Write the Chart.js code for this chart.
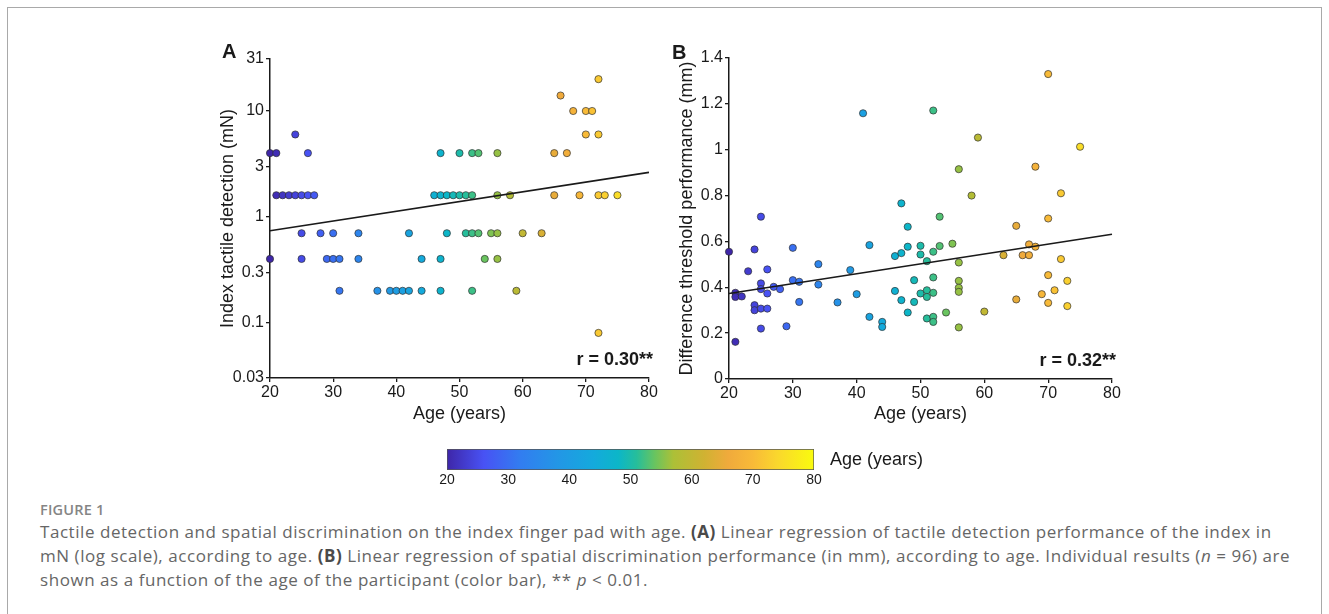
<!DOCTYPE html>
<html>
<head>
<meta charset="utf-8">
<script src="https://cdn.jsdelivr.net/npm/chart.js@4.4.1/dist/chart.umd.min.js"></script>
<style>
    html, body { margin: 0; padding: 0; background: #fff; overflow: hidden; }
    body { width: 1329px; height: 614px; position: relative; font-family: "Liberation Sans", Arial, sans-serif; color: #1a1a1a; }
    .frame { position: absolute; left: 7px; top: 7px; width: 1313px; height: 700px; border: 1.5px solid #a9a9a9; }
    .abs { position: absolute; white-space: nowrap; line-height: 1; }
    canvas { position: absolute; }
    .panel { font-weight: bold; font-size: 20px; }
    .corr { font-weight: bold; font-size: 18px; width: 200px; text-align: right; }
    .cblabel { font-size: 18px; }
    .fig { font-family: "Open Sans", sans-serif; font-weight: 600; font-size: 14.5px; color: #858585; letter-spacing: 0.2px; }
    .cap { font-family: "Open Sans", sans-serif; font-size: 17px; letter-spacing: 0.55px; line-height: 24.2px; color: #666; }
    .cap b { color: #4a4a4a; }
</style>
</head>
<body>
<div class="frame"></div>

<canvas id="panelA" width="480" height="390" style="left:190px; top:40px;"></canvas>
<canvas id="panelB" width="490" height="390" style="left:650px; top:40px;"></canvas>
<canvas id="colorbar" width="420" height="55" style="left:420px; top:440px;"></canvas>

<div class="abs panel" style="left:222px; top:41px;">A</div>
<div class="abs panel" style="left:672px; top:42px;">B</div>
<div class="abs corr" style="left:453px; top:350px;">r = 0.30**</div>
<div class="abs corr" style="left:916px; top:351px;">r = 0.32**</div>
<div class="abs cblabel" style="left:830px; top:450px;">Age (years)</div>

<div class="abs fig" style="left:40px; top:503px;">FIGURE 1</div>
<div class="abs cap" style="left:40px; top:520px;">Tactile detection and spatial discrimination on the index finger pad with age. <b>(A)</b> Linear regression of tactile detection performance of the index in<br>mN (log scale), according to age. <b>(B)</b> Linear regression of spatial discrimination performance (in mm), according to age. Individual results (<i>n</i> = 96) are<br>shown as a function of the age of the participant (color bar), ** <i>p</i> &lt; 0.01.</div>

<script>
// Panel A: tactile detection threshold (mN), log scale
const agesA = [
    20, 21, 26, 47, 50, 52, 53, 56, 65, 67,
    24, 70, 72,
    21, 22, 23, 24, 25, 26, 27, 46, 47, 48, 49, 50, 51, 52, 56, 58, 65, 69, 72, 73, 75,
    25, 28, 30, 34, 42, 48, 51, 52, 53, 55, 56, 60, 63,
    20, 25, 29, 30, 31, 34, 44, 47, 54, 56,
    31, 37, 39, 40, 41, 42, 44, 47, 52, 59,
    72, 72, 66, 68, 70, 71,
];
const valuesA = [
    4, 4, 4, 4, 4, 4, 4, 4, 4, 4,
    6, 6, 6,
    1.6, 1.6, 1.6, 1.6, 1.6, 1.6, 1.6, 1.6, 1.6, 1.6, 1.6, 1.6, 1.6, 1.6, 1.6, 1.6, 1.6, 1.6, 1.6, 1.6, 1.6,
    0.7, 0.7, 0.7, 0.7, 0.7, 0.7, 0.7, 0.7, 0.7, 0.7, 0.7, 0.7, 0.7,
    0.4, 0.4, 0.4, 0.4, 0.4, 0.4, 0.4, 0.4, 0.4, 0.4,
    0.2, 0.2, 0.2, 0.2, 0.2, 0.2, 0.2, 0.2, 0.2, 0.2,
    0.08, 20, 14, 10, 10, 10,
];

// Panel B: difference threshold (mm)
const agesB = [
    20, 21, 21, 22, 21, 23, 24, 24, 24, 25, 25, 25, 25, 26, 26, 26, 27, 28, 29, 30,
    30, 31, 31, 34, 34, 37, 39, 40, 42, 42, 44, 44, 46, 46, 47, 47, 25, 41, 47, 48,
    48, 50, 50, 51, 52, 53, 55, 56, 49, 52, 49, 48, 50, 51, 51, 52, 51, 52, 52, 54,
    56, 56, 56, 56, 60, 63, 65, 65, 66, 67, 67, 68, 69, 70, 70, 71, 72, 73, 73, 70,
    70, 52, 59, 75, 56, 68, 58, 72, 53,
];
const valuesB = [
    0.555, 0.376, 0.358, 0.36, 0.162, 0.47, 0.565, 0.322, 0.30, 0.417, 0.392, 0.307, 0.22, 0.478, 0.373, 0.307, 0.402, 0.392, 0.23, 0.572,
    0.431, 0.424, 0.336, 0.501, 0.412, 0.334, 0.475, 0.37, 0.584, 0.271, 0.249, 0.227, 0.536, 0.384, 0.344, 0.549, 0.708, 1.159, 0.766, 0.664,
    0.577, 0.581, 0.543, 0.514, 0.555, 0.58, 0.59, 0.508, 0.431, 0.443, 0.336, 0.29, 0.373, 0.387, 0.358, 0.376, 0.264, 0.271, 0.249, 0.29,
    0.428, 0.398, 0.38, 0.225, 0.294, 0.54, 0.668, 0.347, 0.54, 0.587, 0.54, 0.577, 0.37, 0.453, 0.332, 0.387, 0.523, 0.428, 0.318, 0.70,
    1.33, 1.171, 1.053, 1.013, 0.915, 0.926, 0.80, 0.81, 0.708,
];

// Regression lines (end points)
const fitAges = [20, 80];
const fitA = [0.74, 2.63];
const fitB = [0.373, 0.631];

// Tick labels
const ageTicks = [20, 30, 40, 50, 60, 70, 80];
const yTicksA = [0.03, 0.1, 0.3, 1, 3, 10, 31];
const yTicksB = [0, 0.2, 0.4, 0.6, 0.8, 1, 1.2, 1.4];

// parula-like colour map, age 20 -> 80
const colorStops = [
    [20, [62, 38, 168]],
    [26, [72, 82, 244]],
    [32, [50, 125, 240]],
    [38, [35, 150, 230]],
    [44, [20, 170, 220]],
    [48, [12, 182, 200]],
    [51, [38, 190, 155]],
    [54, [105, 196, 95]],
    [57, [172, 192, 55]],
    [62, [208, 178, 50]],
    [66, [240, 170, 60]],
    [70, [248, 186, 56]],
    [74, [250, 215, 45]],
    [80, [249, 251, 14]],
];

const black = '#1a1a1a';
Chart.defaults.font.family = "'Liberation Sans', Arial, sans-serif";
Chart.defaults.color = black;

function ageColor(age) {
    for (let i = 1; i < colorStops.length; i++) {
        const [a1, c1] = colorStops[i];
        const [a0, c0] = colorStops[i - 1];
        if (age <= a1) {
            const t = (age - a0) / (a1 - a0);
            const c = c0.map((v, k) => Math.round(v + (c1[k] - v) * t));
            return `rgb(${c[0]}, ${c[1]}, ${c[2]})`;
        }
    }
    const last = colorStops[colorStops.length - 1][1];
    return `rgb(${last[0]}, ${last[1]}, ${last[2]})`;
}

function gridStyle() {
    return { display: true, drawOnChartArea: false, drawTicks: true, tickLength: 4, color: black, lineWidth: 1.3 };
}

function makePanel(id, ages, values, fit, yScale, padding, yWidth, xHeight) {
    const points = ages.map((a, i) => ({ x: a, y: values[i] }));
    const line = fitAges.map((a, i) => ({ x: a, y: fit[i] }));

    yScale.afterFit = (axis) => { axis.width = yWidth; };
    yScale.grid = gridStyle();
    yScale.border = { color: black, width: 1.5 };

    return new Chart(document.getElementById(id), {
        type: 'scatter',
        data: {
            datasets: [
                {
                    type: 'line',
                    data: line,
                    borderColor: black,
                    borderWidth: 1.6,
                    pointRadius: 0,
                    order: 0,
                    clip: false,
                },
                {
                    data: points,
                    pointRadius: 3.6,
                    pointBackgroundColor: ages.map(ageColor),
                    pointBorderColor: 'rgba(45, 45, 45, 0.85)',
                    pointBorderWidth: 0.8,
                    order: 1,
                    clip: false,
                },
            ],
        },
        options: {
            responsive: false,
            animation: false,
            layout: { padding },
            plugins: { legend: { display: false }, tooltip: { enabled: false } },
            scales: {
                x: {
                    type: 'linear',
                    min: 20,
                    max: 80,
                    afterBuildTicks: (axis) => { axis.ticks = ageTicks.map((v) => ({ value: v })); },
                    afterFit: (axis) => { axis.height = xHeight; },
                    ticks: { font: { size: 16 }, padding: 1, maxRotation: 0 },
                    grid: gridStyle(),
                    border: { color: black, width: 1.5 },
                    title: { display: true, text: 'Age (years)', font: { size: 18 }, padding: { top: 0, bottom: 5 } },
                },
                y: yScale,
            },
        },
    });
}

makePanel('panelA', agesA, valuesA, fitA, {
    type: 'logarithmic',
    min: 0.03,
    max: 31,
    afterBuildTicks: (axis) => { axis.ticks = yTicksA.map((v) => ({ value: v })); },
    ticks: { font: { size: 16 }, padding: 2, callback: (v) => String(v) },
    title: { display: true, text: 'Index tactile detection (mN)', font: { size: 18 } },
}, { left: 23, right: 21, top: 19, bottom: 0 }, 57, 52);

makePanel('panelB', agesB, valuesB, fitB, {
    type: 'linear',
    min: 0,
    max: 1.4,
    afterBuildTicks: (axis) => { axis.ticks = yTicksB.map((v) => ({ value: v })); },
    ticks: { font: { size: 16 }, padding: 2, callback: (v) => String(+v.toFixed(1)) },
    title: { display: true, text: 'Difference threshold performance (mm)', font: { size: 18 } },
}, { left: 22, right: 28, top: 18, bottom: 0 }, 57, 51);

// Colour bar
function barGradient(context) {
    const { chart } = context;
    const area = chart.chartArea;
    if (!area) {
        return null;
    }
    const g = chart.ctx.createLinearGradient(area.left, 0, area.right, 0);
    colorStops.forEach(([age, c]) => {
        g.addColorStop((age - 20) / 60, `rgb(${c[0]}, ${c[1]}, ${c[2]})`);
    });
    return g;
}

new Chart(document.getElementById('colorbar'), {
    type: 'bar',
    data: {
        labels: [''],
        datasets: [{
            data: [[20, 80]],
            backgroundColor: barGradient,
            borderColor: '#555',
            borderWidth: 1,
            borderSkipped: false,
            barPercentage: 1,
            categoryPercentage: 1,
        }],
    },
    options: {
        indexAxis: 'y',
        responsive: false,
        animation: false,
        layout: { padding: { left: 27, right: 26, top: 9, bottom: 0 } },
        plugins: { legend: { display: false }, tooltip: { enabled: false } },
        scales: {
            x: {
                type: 'linear',
                min: 20,
                max: 80,
                afterBuildTicks: (axis) => { axis.ticks = ageTicks.map((v) => ({ value: v })); },
                afterFit: (axis) => { axis.height = 25; },
                grid: { display: false, drawTicks: false },
                border: { display: false },
                ticks: { font: { size: 14 }, padding: 2, maxRotation: 0 },
            },
            y: { display: false },
        },
    },
});
</script>
</body>
</html>
